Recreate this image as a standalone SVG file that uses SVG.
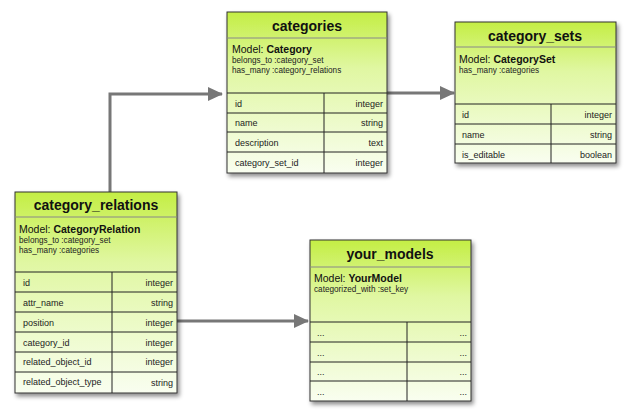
<svg xmlns="http://www.w3.org/2000/svg" width="630" height="420" viewBox="0 0 630 420">
<defs>
<linearGradient id="g" x1="0" y1="0" x2="0" y2="1">
<stop offset="0" stop-color="#c4ee44"/>
<stop offset="0.35" stop-color="#e0f7a2"/>
<stop offset="1" stop-color="#f9fef0"/>
</linearGradient>
<filter id="sh" x="-10%" y="-10%" width="130%" height="130%">
<feDropShadow dx="2" dy="3" stdDeviation="2" flood-color="#000" flood-opacity="0.45"/>
</filter>
<marker id="ah" markerWidth="16" markerHeight="14" refX="14" refY="7" orient="auto" markerUnits="userSpaceOnUse">
<path d="M0,0 L15,7 L0,14 Z" fill="#777"/>
</marker>
<style>
.box{fill:url(#g);stroke:#333;stroke-width:1;filter:url(#sh)}
.hl{stroke:#888;stroke-width:1}
.rl{stroke:#222;stroke-width:1}
.t{font-family:"Liberation Sans",Arial,sans-serif;font-size:14px;font-weight:bold;fill:#111;text-anchor:middle}
.m{font-family:"Liberation Sans",Arial,sans-serif;font-size:10.5px;fill:#111}
.mb{font-weight:bold}
.s{font-family:"Liberation Sans",Arial,sans-serif;font-size:8.2px;fill:#222}
.c{font-family:"Liberation Sans",Arial,sans-serif;font-size:9px;fill:#222}
.r{text-anchor:end}
.cn{fill:none;stroke:#777;stroke-width:3}
</style>
</defs>
<g id="connectors">
<path class="cn" d="M110,192 V94 H222" marker-end="url(#ah)"/>
<path class="cn" d="M387,93 H454" marker-end="url(#ah)"/>
<path class="cn" d="M177,321 H308" marker-end="url(#ah)"/>
</g>
<g id="categories">
<rect class="box" x="227" y="12" width="160" height="161"/>
<line class="hl" x1="227" y1="38" x2="387" y2="38"/>
<text class="t" x="307" y="31">categories</text>
<text class="m" x="232" y="53">Model: <tspan class="mb">Category</tspan></text>
<text class="s" x="232" y="63">belongs_to :category_set</text>
<text class="s" x="232" y="73">has_many :category_relations</text>
<line class="rl" x1="227" y1="93" x2="387" y2="93"/>
<line class="rl" x1="227" y1="113" x2="387" y2="113"/>
<line class="rl" x1="227" y1="132" x2="387" y2="132"/>
<line class="rl" x1="227" y1="152" x2="387" y2="152"/>
<line class="rl" x1="324" y1="93" x2="324" y2="173"/>
<text class="c" x="235" y="107">id</text><text class="c r" x="383" y="107">integer</text>
<text class="c" x="235" y="126">name</text><text class="c r" x="383" y="126">string</text>
<text class="c" x="235" y="146">description</text><text class="c r" x="383" y="146">text</text>
<text class="c" x="235" y="166">category_set_id</text><text class="c r" x="383" y="166">integer</text>
</g>
<g id="category_sets">
<rect class="box" x="455" y="22" width="161" height="141"/>
<line class="hl" x1="455" y1="47" x2="616" y2="47"/>
<text class="t" x="535" y="41">category_sets</text>
<text class="m" x="459" y="63">Model: <tspan class="mb">CategorySet</tspan></text>
<text class="s" x="459" y="73">has_many :categories</text>
<line class="rl" x1="455" y1="104" x2="616" y2="104"/>
<line class="rl" x1="455" y1="124" x2="616" y2="124"/>
<line class="rl" x1="455" y1="144" x2="616" y2="144"/>
<line class="rl" x1="551" y1="104" x2="551" y2="163"/>
<text class="c" x="462" y="118">id</text><text class="c r" x="612" y="118">integer</text>
<text class="c" x="462" y="138">name</text><text class="c r" x="612" y="138">string</text>
<text class="c" x="462" y="158">is_editable</text><text class="c r" x="612" y="158">boolean</text>
</g>
<g id="category_relations">
<rect class="box" x="15" y="192" width="162" height="201"/>
<line class="hl" x1="15" y1="217" x2="177" y2="217"/>
<text class="t" x="96" y="210">category_relations</text>
<text class="m" x="19" y="233">Model: <tspan class="mb">CategoryRelation</tspan></text>
<text class="s" x="19" y="243">belongs_to :category_set</text>
<text class="s" x="19" y="253">has_many :categories</text>
<line class="rl" x1="15" y1="272" x2="177" y2="272"/>
<line class="rl" x1="15" y1="292" x2="177" y2="292"/>
<line class="rl" x1="15" y1="312" x2="177" y2="312"/>
<line class="rl" x1="15" y1="332" x2="177" y2="332"/>
<line class="rl" x1="15" y1="352" x2="177" y2="352"/>
<line class="rl" x1="15" y1="372" x2="177" y2="372"/>
<line class="rl" x1="112" y1="272" x2="112" y2="393"/>
<text class="c" x="23" y="286">id</text><text class="c r" x="173" y="286">integer</text>
<text class="c" x="23" y="306">attr_name</text><text class="c r" x="173" y="306">string</text>
<text class="c" x="23" y="326">position</text><text class="c r" x="173" y="326">integer</text>
<text class="c" x="23" y="346">category_id</text><text class="c r" x="173" y="346">integer</text>
<text class="c" x="23" y="365">related_object_id</text><text class="c r" x="173" y="365">integer</text>
<text class="c" x="23" y="385">related_object_type</text><text class="c r" x="173" y="386">string</text>
</g>
<g id="your_models">
<rect class="box" x="310" y="240" width="161" height="161"/>
<line class="hl" x1="310" y1="267" x2="471" y2="267"/>
<text class="t" x="390" y="259">your_models</text>
<text class="m" x="314" y="282">Model: <tspan class="mb">YourModel</tspan></text>
<text class="s" x="314" y="292">categorized_with :set_key</text>
<line class="rl" x1="310" y1="322" x2="471" y2="322"/>
<line class="rl" x1="310" y1="342" x2="471" y2="342"/>
<line class="rl" x1="310" y1="362" x2="471" y2="362"/>
<line class="rl" x1="310" y1="381" x2="471" y2="381"/>
<line class="rl" x1="407" y1="322" x2="407" y2="401"/>
<text class="c" x="317" y="336">...</text><text class="c r" x="467" y="336">...</text>
<text class="c" x="317" y="356">...</text><text class="c r" x="467" y="356">...</text>
<text class="c" x="317" y="375">...</text><text class="c r" x="467" y="375">...</text>
<text class="c" x="317" y="395">...</text><text class="c r" x="467" y="395">...</text>
</g>
</svg>
